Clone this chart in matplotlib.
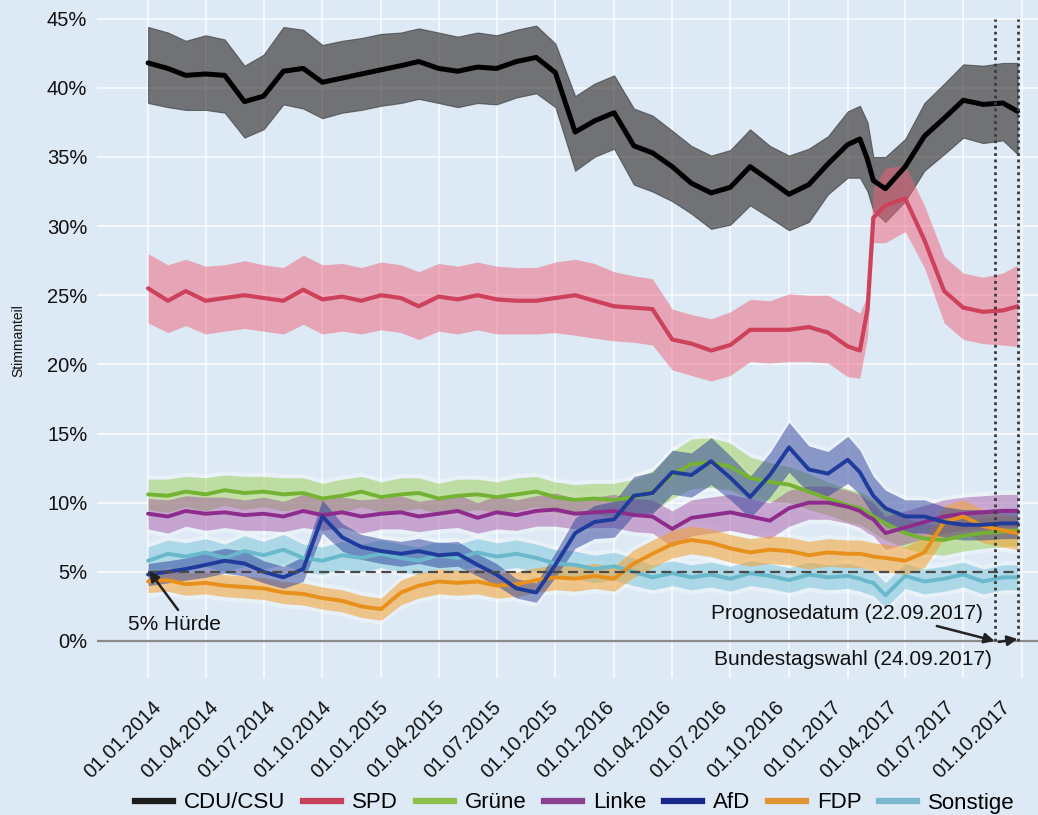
import matplotlib
matplotlib.use("Agg")
import matplotlib.pyplot as plt
import matplotlib.dates as mdates
from matplotlib.lines import Line2D
import numpy as np
import pandas as pd

plt.rcParams['font.family'] = ['Liberation Sans', 'DejaVu Sans']

# ---------------- data ----------------
dates = pd.to_datetime([
    "2014-01-01", "2014-02-01", "2014-03-01", "2014-04-01", "2014-05-01", "2014-06-01",
    "2014-07-01", "2014-08-01", "2014-09-01", "2014-10-01", "2014-11-01", "2014-12-01",
    "2015-01-01", "2015-02-01", "2015-03-01", "2015-04-01", "2015-05-01", "2015-06-01",
    "2015-07-01", "2015-08-01", "2015-09-01", "2015-10-01", "2015-11-01", "2015-12-01",
    "2016-01-01", "2016-02-01", "2016-03-01", "2016-04-01", "2016-05-01", "2016-06-01",
    "2016-07-01", "2016-08-01", "2016-09-01", "2016-10-01", "2016-11-01", "2016-12-01",
    "2017-01-01", "2017-01-20", "2017-02-01", "2017-02-10", "2017-03-01", "2017-04-01",
    "2017-05-01", "2017-06-01", "2017-07-01", "2017-08-01", "2017-09-01", "2017-09-24",
])

cdu = [41.8, 41.4, 40.9, 41.0, 40.9, 39.0, 39.4, 41.2, 41.4, 40.4, 40.7, 41.0,
       41.3, 41.6, 41.9, 41.4, 41.2, 41.5, 41.4, 41.9, 42.2, 41.1, 36.8, 37.6,
       38.2, 35.8, 35.3, 34.3, 33.1, 32.4, 32.8, 34.3, 33.3, 32.3, 33.0, 34.5,
       35.9, 36.3, 34.8, 33.3, 32.7, 34.3, 36.5, 37.8, 39.1, 38.8, 38.9, 38.3]
cdu_hi = [44.4, 44.0, 43.4, 43.8, 43.5, 41.6, 42.4, 44.4, 44.2, 43.1, 43.4, 43.6,
          43.9, 44.0, 44.3, 44.0, 43.7, 44.0, 43.8, 44.2, 44.5, 43.2, 39.4, 40.3,
          40.9, 38.5, 38.0, 36.9, 35.8, 35.1, 35.5, 37.0, 35.8, 35.1, 35.6, 36.5,
          38.3, 38.7, 37.5, 35.0, 35.0, 36.3, 38.9, 40.3, 41.7, 41.6, 41.8, 41.8]
cdu_lo = [38.9, 38.6, 38.4, 38.4, 38.2, 36.4, 37.0, 38.8, 38.5, 37.8, 38.2, 38.4,
          38.7, 38.9, 39.2, 38.9, 38.6, 38.9, 38.8, 39.3, 39.6, 38.6, 34.0, 35.0,
          35.6, 33.0, 32.5, 31.8, 30.9, 29.8, 30.1, 31.5, 30.6, 29.7, 30.3, 32.3,
          33.5, 33.5, 32.5, 31.1, 30.3, 31.8, 34.0, 35.2, 36.4, 36.0, 36.2, 35.2]

spd = [25.5, 24.6, 25.3, 24.6, 24.8, 25.0, 24.8, 24.6, 25.4, 24.7, 24.9, 24.6,
       25.0, 24.8, 24.2, 24.9, 24.7, 25.0, 24.7, 24.6, 24.6, 24.8, 25.0, 24.6,
       24.2, 24.1, 24.0, 21.8, 21.5, 21.0, 21.4, 22.5, 22.5, 22.5, 22.7, 22.3,
       21.3, 21.0, 24.0, 30.6, 31.5, 32.0, 29.0, 25.3, 24.1, 23.8, 23.9, 24.2]
spd_hi = [28.0, 27.2, 27.6, 27.1, 27.2, 27.5, 27.2, 27.0, 27.9, 27.2, 27.3, 27.0,
          27.4, 27.2, 26.7, 27.3, 27.1, 27.4, 27.1, 27.0, 27.0, 27.4, 27.6, 27.3,
          26.7, 26.4, 26.2, 24.0, 23.6, 23.3, 23.8, 24.7, 24.6, 25.1, 25.0, 25.0,
          24.2, 23.7, 25.0, 32.8, 34.2, 34.4, 31.5, 27.8, 26.6, 26.3, 26.6, 27.2]
spd_lo = [23.0, 22.3, 22.8, 22.2, 22.4, 22.6, 22.4, 22.2, 22.9, 22.2, 22.4, 22.2,
          22.5, 22.3, 21.8, 22.4, 22.2, 22.5, 22.2, 22.2, 22.2, 22.3, 22.1, 21.9,
          21.7, 21.6, 21.4, 19.6, 19.2, 18.8, 19.2, 20.2, 20.1, 20.2, 20.2, 20.1,
          19.1, 19.0, 22.0, 28.8, 28.8, 29.6, 27.0, 23.0, 21.8, 21.5, 21.4, 21.3]

gruene = [10.6, 10.5, 10.8, 10.6, 10.9, 10.7, 10.8, 10.6, 10.7, 10.3, 10.5, 10.8,
          10.4, 10.6, 10.7, 10.3, 10.5, 10.6, 10.4, 10.6, 10.8, 10.4, 10.2, 10.3,
          10.2, 10.4, 10.8, 12.0, 12.8, 12.9, 12.6, 11.8, 11.5, 11.3, 10.8, 10.3,
          9.8, 9.6, 9.3, 9.0, 8.5, 7.8, 7.4, 7.3, 7.6, 7.8, 7.9, 8.0]
gruene_hw = [1.1, 1.2, 1.1, 1.2, 1.1, 1.2, 1.1, 1.2, 1.1, 1.1, 1.2, 1.1,
             1.1, 1.2, 1.1, 1.1, 1.2, 1.1, 1.1, 1.2, 1.1, 1.1, 1.1, 1.1,
             1.2, 1.3, 1.5, 1.7, 1.8, 1.8, 1.7, 1.5, 1.4, 1.3, 1.3, 1.2,
             1.2, 1.2, 1.2, 1.2, 1.2, 1.1, 1.1, 1.1, 1.1, 1.1, 1.1, 1.1]

linke = [9.2, 9.0, 9.4, 9.2, 9.3, 9.1, 9.2, 9.0, 9.4, 9.1, 9.3, 9.0,
         9.2, 9.3, 9.0, 9.2, 9.4, 8.9, 9.3, 9.1, 9.4, 9.5, 9.2, 9.3,
         9.4, 9.1, 9.0, 8.1, 8.9, 9.1, 9.3, 9.0, 8.7, 9.6, 10.0, 10.0,
         9.7, 9.4, 9.0, 8.8, 7.8, 8.2, 8.6, 9.0, 9.2, 9.3, 9.4, 9.4]
linke_hw = [1.1, 1.2, 1.1, 1.2, 1.1, 1.1, 1.2, 1.1, 1.2, 1.1, 1.1, 1.2,
            1.1, 1.2, 1.1, 1.1, 1.2, 1.1, 1.2, 1.1, 1.1, 1.2, 1.1, 1.1,
            1.2, 1.2, 1.2, 1.3, 1.3, 1.3, 1.3, 1.3, 1.3, 1.3, 1.2, 1.2,
            1.2, 1.2, 1.2, 1.2, 1.2, 1.2, 1.2, 1.2, 1.2, 1.2, 1.2, 1.2]

afd = [4.8, 5.0, 5.2, 5.5, 5.8, 5.6, 5.0, 4.6, 5.2, 9.0, 7.5, 6.8,
       6.5, 6.3, 6.5, 6.2, 6.3, 5.5, 4.8, 3.8, 3.5, 5.5, 7.8, 8.6,
       8.8, 10.5, 10.7, 12.2, 12.0, 13.0, 11.8, 10.4, 12.0, 14.0, 12.4, 12.1,
       13.1, 12.2, 11.2, 10.5, 9.6, 9.0, 9.0, 8.6, 8.4, 8.4, 8.5, 8.5]
afd_hw = [0.8, 0.8, 0.8, 0.9, 0.9, 0.9, 0.8, 0.8, 0.9, 1.2, 1.0, 0.9,
          0.9, 0.9, 0.9, 0.9, 0.9, 0.8, 0.8, 0.7, 0.7, 0.9, 1.1, 1.2,
          1.3, 1.4, 1.5, 1.6, 1.6, 1.7, 1.6, 1.5, 1.6, 1.8, 1.7, 1.6,
          1.7, 1.6, 1.5, 1.4, 1.3, 1.2, 1.2, 1.1, 1.1, 1.1, 1.1, 1.1]

fdp = [4.3, 4.4, 4.1, 4.2, 4.0, 3.9, 3.8, 3.5, 3.4, 3.1, 2.9, 2.5,
       2.3, 3.5, 4.0, 4.3, 4.2, 4.3, 4.0, 4.1, 4.4, 4.6, 4.5, 4.7,
       4.5, 5.6, 6.3, 7.0, 7.3, 7.1, 6.7, 6.4, 6.6, 6.5, 6.2, 6.4,
       6.3, 6.3, 6.2, 6.1, 6.0, 5.8, 6.4, 8.6, 9.0, 8.3, 8.0, 7.8]
fdp_hw = [0.8, 0.8, 0.8, 0.8, 0.8, 0.8, 0.8, 0.8, 0.8, 0.8, 0.8, 0.8,
          0.8, 0.9, 0.9, 0.9, 0.9, 0.9, 0.9, 0.9, 0.9, 0.9, 0.9, 0.9,
          0.9, 1.0, 1.0, 1.0, 1.0, 1.0, 1.0, 1.0, 1.0, 1.0, 1.0, 1.0,
          1.0, 1.0, 1.0, 1.0, 1.0, 1.0, 1.1, 1.2, 1.2, 1.2, 1.2, 1.2]

sonstige = [5.8, 6.3, 6.1, 6.4, 6.0, 6.5, 6.2, 6.6, 6.0, 5.8, 6.2, 6.0,
            6.3, 6.0, 5.8, 6.2, 6.0, 6.4, 6.1, 6.3, 6.0, 5.6, 5.5, 5.2,
            5.4, 5.0, 4.6, 4.9, 4.6, 4.8, 4.5, 4.9, 4.7, 4.4, 4.8, 4.6,
            4.7, 4.5, 4.3, 4.2, 3.3, 4.7, 4.3, 4.5, 4.8, 4.3, 4.6, 4.6]
sonstige_hw = [1.0, 1.0, 1.0, 1.0, 1.0, 1.1, 1.0, 1.1, 1.0, 1.0, 1.0, 1.0,
               1.0, 1.0, 1.0, 1.0, 1.0, 1.0, 1.0, 1.0, 1.0, 1.0, 1.0, 1.0,
               1.0, 1.0, 0.9, 0.9, 0.9, 0.9, 0.9, 0.9, 0.9, 0.9, 0.9, 0.9,
               0.9, 0.9, 0.9, 0.9, 0.9, 0.9, 0.9, 0.9, 0.9, 0.9, 0.9, 0.9]

party_names = ["CDU/CSU", "SPD", "Grüne", "Linke", "AfD", "FDP", "Sonstige"]
legend_colors = ["#1c1c1c", "#c9405a", "#8dbf4a", "#8a4190", "#17288a", "#e09432", "#7ab8cc"]

x_tick_labels = ["01.01.2014", "01.04.2014", "01.07.2014", "01.10.2014",
                 "01.01.2015", "01.04.2015", "01.07.2015", "01.10.2015",
                 "01.01.2016", "01.04.2016", "01.07.2016", "01.10.2016",
                 "01.01.2017", "01.04.2017", "01.07.2017", "01.10.2017"]
y_ticks = [0, 5, 10, 15, 20, 25, 30, 35, 40, 45]

start_date = pd.Timestamp("2014-01-01")
election_date = pd.Timestamp("2017-09-24")
prognose_marker = pd.Timestamp("2017-08-19")   # where the reference draws the forecast line
threshold = 5

# ---------------- figure ----------------
BG = "#dde9f5"
W, H = 1038, 815
fig = plt.figure(figsize=(W / 100, H / 100), dpi=100, facecolor=BG)
ax = fig.add_axes([97 / W, 1 - 678 / H, 1 - 97 / W, 678 / H], facecolor=BG)

x0 = mdates.date2num(start_date)
ax.set_xlim(x0 - 80, x0 + 1394)
ax.set_ylim(-2.68, 46.35)
for s in ax.spines.values():
    s.set_visible(False)

xd = mdates.date2num(dates)

# grid
quarters = pd.date_range("2014-01-01", "2017-10-01", freq="QS")
ax.set_xticks(mdates.date2num(quarters), minor=True)
ax.set_yticks(y_ticks)
ax.set_yticklabels([f"{v}%" for v in y_ticks], fontsize=14.5, color="#111")
ax.grid(which="minor", axis="x", color="white", lw=1.3, alpha=0.75)
ax.grid(which="major", axis="y", color="white", lw=1.3, alpha=0.75)
ax.tick_params(axis="y", length=0, pad=7)
ax.tick_params(axis="x", which="both", length=0)
ax.set_axisbelow(True)

# x tick labels (placed as in the reference)
lab_pos = x0 + 6.3 + 88.63 * np.arange(len(x_tick_labels))
ax.set_xticks(lab_pos)
ax.set_xticklabels(x_tick_labels, rotation=45, ha="right", va="top",
                   rotation_mode="anchor", fontsize=14.5, color="#111")
ax.tick_params(axis="x", which="major", pad=14)

ax.axhline(0, color="#8a8a8a", lw=1.6, zorder=1)

# ---------------- small parties ----------------
small = [
    (gruene, gruene_hw, "#8cc63f", 0.45, "#74b234"),
    (linke, linke_hw, "#9b4a9e", 0.45, "#8e2c8e"),
    (sonstige, sonstige_hw, "#70c0d5", 0.50, "#6ab8cc"),
    (fdp, fdp_hw, "#f0a030", 0.55, "#e8901c"),
    (afd, afd_hw, "#2a3f9a", 0.50, "#1f3b9b"),
]
for vals, hw, c, a, lc in small:
    v = np.array(vals); h = np.array(hw)
    ax.fill_between(xd, v - h - 0.3, v + h + 0.3, color="white", alpha=0.35, lw=0, zorder=2)
for vals, hw, c, a, lc in small:
    v = np.array(vals); h = np.array(hw)
    ax.fill_between(xd, v - h, v + h, color=c, alpha=a, lw=0, zorder=3)
for vals, hw, c, a, lc in small:
    ax.plot(xd, vals, color=lc, lw=2.8, zorder=4, solid_capstyle="round")

# ---------------- CDU / SPD ----------------
ax.fill_between(xd, cdu_lo, cdu_hi, color="#2e2a26", alpha=0.62, lw=0.8,
                edgecolor="#333333", zorder=5)
ax.fill_between(xd, spd_lo, spd_hi, color="#f0607a", alpha=0.5, lw=0, zorder=6)
ax.plot(xd, spd, color="#cd415a", lw=3.0, zorder=7, solid_capstyle="round")
ax.plot(xd, cdu, color="black", lw=3.6, zorder=8, solid_capstyle="round")

# ---------------- annotations ----------------
ax.plot([x0, mdates.date2num(election_date)], [threshold, threshold],
        color="#4a4a4a", lw=1.6, ls=(0, (4.5, 2.5)), zorder=9)
ax.vlines([mdates.date2num(prognose_marker), mdates.date2num(election_date)], 0, 45,
          colors="#3a3a3a", lw=2.0, linestyles=[(0, (1, 1.3))], zorder=9)

arrow = dict(arrowstyle="-|>", color="#222222", lw=1.8, mutation_scale=15,
             shrinkA=0, shrinkB=0)
ax.annotate("", xy=(x0 + 1.5, 5.06), xytext=(x0 + 47, 2.24), arrowprops=arrow, zorder=10)
ax.text(x0 + 41.6, 1.16, "5% Hürde", ha="center", va="center", fontsize=15, color="#111")

ax.text(x0 + 1307.5, 2.02, "Prognosedatum (22.09.2017)", ha="right", va="center",
        fontsize=15, color="#111")
ax.annotate("", xy=(mdates.date2num(prognose_marker), 0.0), xytext=(x0 + 1235.5, 1.08),
            arrowprops=arrow, zorder=10)
ax.text(x0 + 1321.6, -1.37, "Bundestagswahl (24.09.2017)", ha="right", va="center",
        fontsize=15, color="#111")
ax.annotate("", xy=(mdates.date2num(election_date), 0.14), xytext=(x0 + 1332.6, -0.07),
            arrowprops=arrow, zorder=10)

fig.text(18 / W, 1 - 341 / H, "Stimmanteil", rotation=90, ha="center", va="center",
         fontsize=10, color="#111")

# ---------------- legend ----------------
handles = [Line2D([0], [0], color=c, lw=4.5) for c in legend_colors]
fig.legend(handles, party_names, loc="center", bbox_to_anchor=(575 / W, 1 - 803 / H),
           ncol=7, frameon=False, fontsize=16, handlelength=1.7, handletextpad=0.5,
           columnspacing=0.8, borderaxespad=0)

fig.savefig("out.png", dpi=100, facecolor=BG)
